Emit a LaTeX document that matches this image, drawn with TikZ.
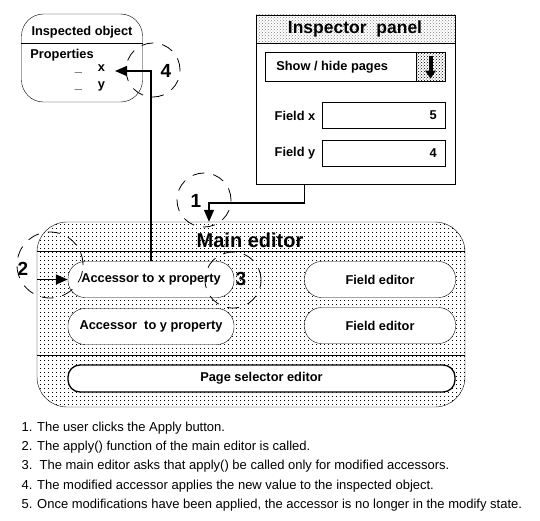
\documentclass[tikz,border=0pt]{standalone}
\usepackage{fontspec}
\setmainfont{Liberation Sans}
\usetikzlibrary{arrows.meta,patterns,patterns.meta}
\tikzdeclarepattern{
  name=pixdots,
  type=uncolored,
  bounding box={(0pt,0pt) and (4pt,4pt)},
  tile size={(4pt,4pt)},
  code={\fill (0pt,0pt) rectangle (1.1pt,1.1pt);}
}

\begin{document}
\begin{tikzpicture}[x=1pt,y=-1pt,
   every node/.style={font=\bfseries\fontsize{12.8}{14}\selectfont},
   pill/.style={draw,fill=white,rounded corners=17pt,minimum height=36pt,inner sep=0pt},
   box/.style={draw,fill=white,minimum height=26pt,inner sep=0pt},
   ring/.style={circle,draw,thick,dash pattern=on 12pt off 9pt,inner sep=0pt},
   num/.style={font=\bfseries\fontsize{19}{21}\selectfont},
   arr/.style={line width=1.5pt,-{Triangle[length=12pt,width=10pt]}},
   note/.style={anchor=west,font=\mdseries\fontsize{13}{15}\selectfont}]
\useasboundingbox (0,0) rectangle (540,520);
%
% inspected object
       \node [draw,rounded corners=22pt,minimum width=121pt,minimum height=88pt] at (82,58) (insp) {};
          \node at (82,32) (insp title) {Inspected object};
          \draw ([yshift=-29pt]insp.north west) -- ([yshift=-29pt]insp.north east);
             \node at (62,55) (props) {Properties};
              \node [inner sep=1pt] at (90,69) (px) {\_\hspace{16pt}x};
               \node [inner sep=1pt] at (90,86) (py) {\_\hspace{16pt}y};
                \coordinate (xprop) at (115,71);
%
% inspector panel
       \node [draw,minimum width=199pt,minimum height=169pt,inner sep=0pt] at (355.5,99.5) (panel) {};
          \path [pattern=crosshatch dots,pattern color=gray] (panel.north west) rectangle ([yshift=-28pt]panel.north east);
          \draw (panel.north west) rectangle (panel.south east);
          \draw ([yshift=-28pt]panel.north west) -- ([yshift=-28pt]panel.north east);
             \node [font=\bfseries\fontsize{17.5}{19}\selectfont] at (355,29) (panel title) {Inspector\ \ panel};
              \node [box,minimum width=180pt,minimum height=29pt] at (355,67) (show) {};
               \node [anchor=west] at ([xshift=8pt]show.west) (show text) {Show / hide pages};
                \node [draw,pattern=crosshatch dots,minimum width=29pt,minimum height=29pt,inner sep=0pt,anchor=east] at (show.east) (btn) {};
                \draw [line width=4pt,-{Triangle[length=8pt,width=10pt]}] ([yshift=-4pt]btn.north) -- ([yshift=3pt]btn.south);
              \node [box,minimum width=123pt] at (383.5,115.5) (fx) {};
               \node [anchor=east] at ([xshift=-5pt]fx.east) (fx val) {5};
               \node [anchor=east] at ([xshift=-3pt]fx.west) (fx label) {Field x};
              \node [box,minimum width=123pt] at (383.5,153) (fy) {};
               \node [anchor=east] at ([xshift=-5pt]fy.east) (fy val) {4};
               \node [anchor=east] at ([xshift=-3pt]fy.west) (fy label) {Field y};
%
% main editor
       \node [draw,pattern=pixdots,rounded corners=30pt,minimum width=428pt,minimum height=185pt] at (251,314.5) (main) {};
          \draw ([yshift=-29pt]main.north west) -- ([yshift=-29pt]main.north east);
          \draw ([yshift=52pt]main.south west) -- ([yshift=52pt]main.south east);
             \node [font=\bfseries\fontsize{20}{22}\selectfont] at (250,240) (main title) {Main editor};
              \node [pill,minimum width=166pt] at (151,279.5) (accx) {Accessor to x property};
              \node [pill,minimum width=166pt] at (151,326.5) (accy) {Accessor\ \ to y property};
              \node [pill,minimum width=151pt] at (380,279.5) (fe1) {Field editor};
              \node [pill,minimum width=151pt] at (380,325.5) (fe2) {Field editor};
              \node [pill,line width=1.3pt,rounded corners=12pt,minimum width=387pt,minimum height=27pt] at (261.5,378.5) (pages) {Page selector editor};
%
% numbered steps
             \node [ring,minimum size=54pt] at (204,200) (r1) {};
             \node [ring,minimum size=66pt] at (50,265) (r2) {};
             \node [ring,minimum size=56pt] at (233,280) (r3) {};
             \node [ring,minimum size=54pt] at (153,70) (r4) {};
             \node [num] at (196,201) (l1) {1};
             \node [num] at (23,269) (l2) {2};
             \node [num] at (241,279) (l3) {3};
             \node [num] at (166,71) (l4) {4};
%
\draw[arr] ([xshift=-51pt]panel.south) -- ++(0,19) -| ([xshift=-42pt]main.north);
\draw[arr] (main.west |- accx) -- (accx.west);
\draw[arr] (accx.north) |- (xprop);
%
% notes
       \node [note] at (18,428) (n1) {1. The user clicks the Apply button.};
       \node [note] at (18,447.2) (n2) {2. The apply() function of the main editor is called.};
       \node [note] at (18,466.5) (n3) {3.\ \ The main editor asks that apply() be called only for modified accessors.};
       \node [note] at (18,485.7) (n4) {4. The modified accessor applies the new value to the inspected object.};
       \node [note] at (18,505) (n5) {5. Once modifications have been applied, the accessor is no longer in the modify state.};
\end{tikzpicture}
\end{document}
